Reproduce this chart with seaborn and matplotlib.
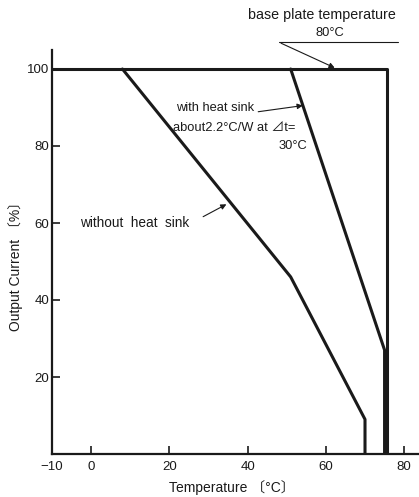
import matplotlib
matplotlib.use("Agg")
import matplotlib.pyplot as plt
import seaborn as sns

# Data
without_temp = [8, 51, 70, 70]
without_current = [100, 46, 9, 0]
with_temp = [51, 75, 75]
with_current = [100, 27, 0]
base_temp = [-10, 75.5, 75.5]
base_current = [100, 100, 0]
x_ticks = [-10, 0, 20, 40, 60, 80]
y_ticks = [20, 40, 60, 80, 100]

sns.set_style("ticks")
plt.rcParams['font.family'] = ['Liberation Sans', 'Noto Sans CJK JP', 'DejaVu Sans']

fig = plt.figure(figsize=(4.19, 4.97), dpi=100)
ax = fig.add_axes([52/419, (497-454)/497, (419-52)/419, (454-49.75)/497])

lw = 2.2
col = "#1a1a1a"
sns.lineplot(x=base_temp, y=base_current, sort=False, estimator=None, ax=ax, color=col, lw=lw)
sns.lineplot(x=with_temp, y=with_current, sort=False, estimator=None, ax=ax, color=col, lw=lw)
sns.lineplot(x=without_temp, y=without_current, sort=False, estimator=None, ax=ax, color=col, lw=lw)

ax.set_xlim(-10, 83.8)
ax.set_ylim(0, 105)
ax.set_xticks(x_ticks)
ax.set_yticks(y_ticks)
ax.tick_params(direction="in", length=6, width=1.2, labelsize=9.5, colors=col)
ax.tick_params(axis="y", pad=2)
ax.tick_params(axis="x", pad=5)
for s in ["top", "right"]:
    ax.spines[s].set_visible(False)
for s in ["left", "bottom"]:
    ax.spines[s].set_linewidth(1.6)
    ax.spines[s].set_color(col)

ax.set_xlabel("Temperature 〔°C〕", fontsize=10, color=col, va="center")
ax.set_ylabel("Output Current 〔%〕", fontsize=10, color=col, va="center")
ax.xaxis.set_label_coords(0.49, -0.082)
ax.yaxis.set_label_coords(-0.098, 0.473)

fs = 9.3
# annotations
ax.text(58.9, 114.0, "base plate temperature", ha="center", va="center", fontsize=10.3, color=col, clip_on=False)
ax.text(61.1, 109.4, "80°C", ha="center", va="center", fontsize=fs, color=col, clip_on=False)
ax.plot([47.9, 78.5], [107, 107], color=col, lw=0.8, clip_on=False)
ax.annotate("", xy=(62.9, 100), xytext=(47.9, 107),
            arrowprops=dict(arrowstyle="-|>", color=col, lw=0.8, mutation_scale=8),
            annotation_clip=False)

ax.text(21.7, 89.9, "with heat sink", ha="left", va="center", fontsize=fs, color=col)
ax.annotate("", xy=(54.8, 90.6), xytext=(42.0, 88.8),
            arrowprops=dict(arrowstyle="-|>", color=col, lw=0.8, mutation_scale=8))
ax.text(20.9, 84.7, "about2.2°C/W at ⊿t=", ha="left", va="center", fontsize=fs, color=col)
ax.text(47.9, 80.0, "30°C", ha="left", va="center", fontsize=fs, color=col)

ax.text(-2.8, 60.0, "without  heat  sink", ha="left", va="center", fontsize=9.8, color=col)
ax.annotate("", xy=(35.2, 65.2), xytext=(28.0, 61.3),
            arrowprops=dict(arrowstyle="-|>", color=col, lw=0.8, mutation_scale=8))

fig.savefig("out.png", dpi=100)
